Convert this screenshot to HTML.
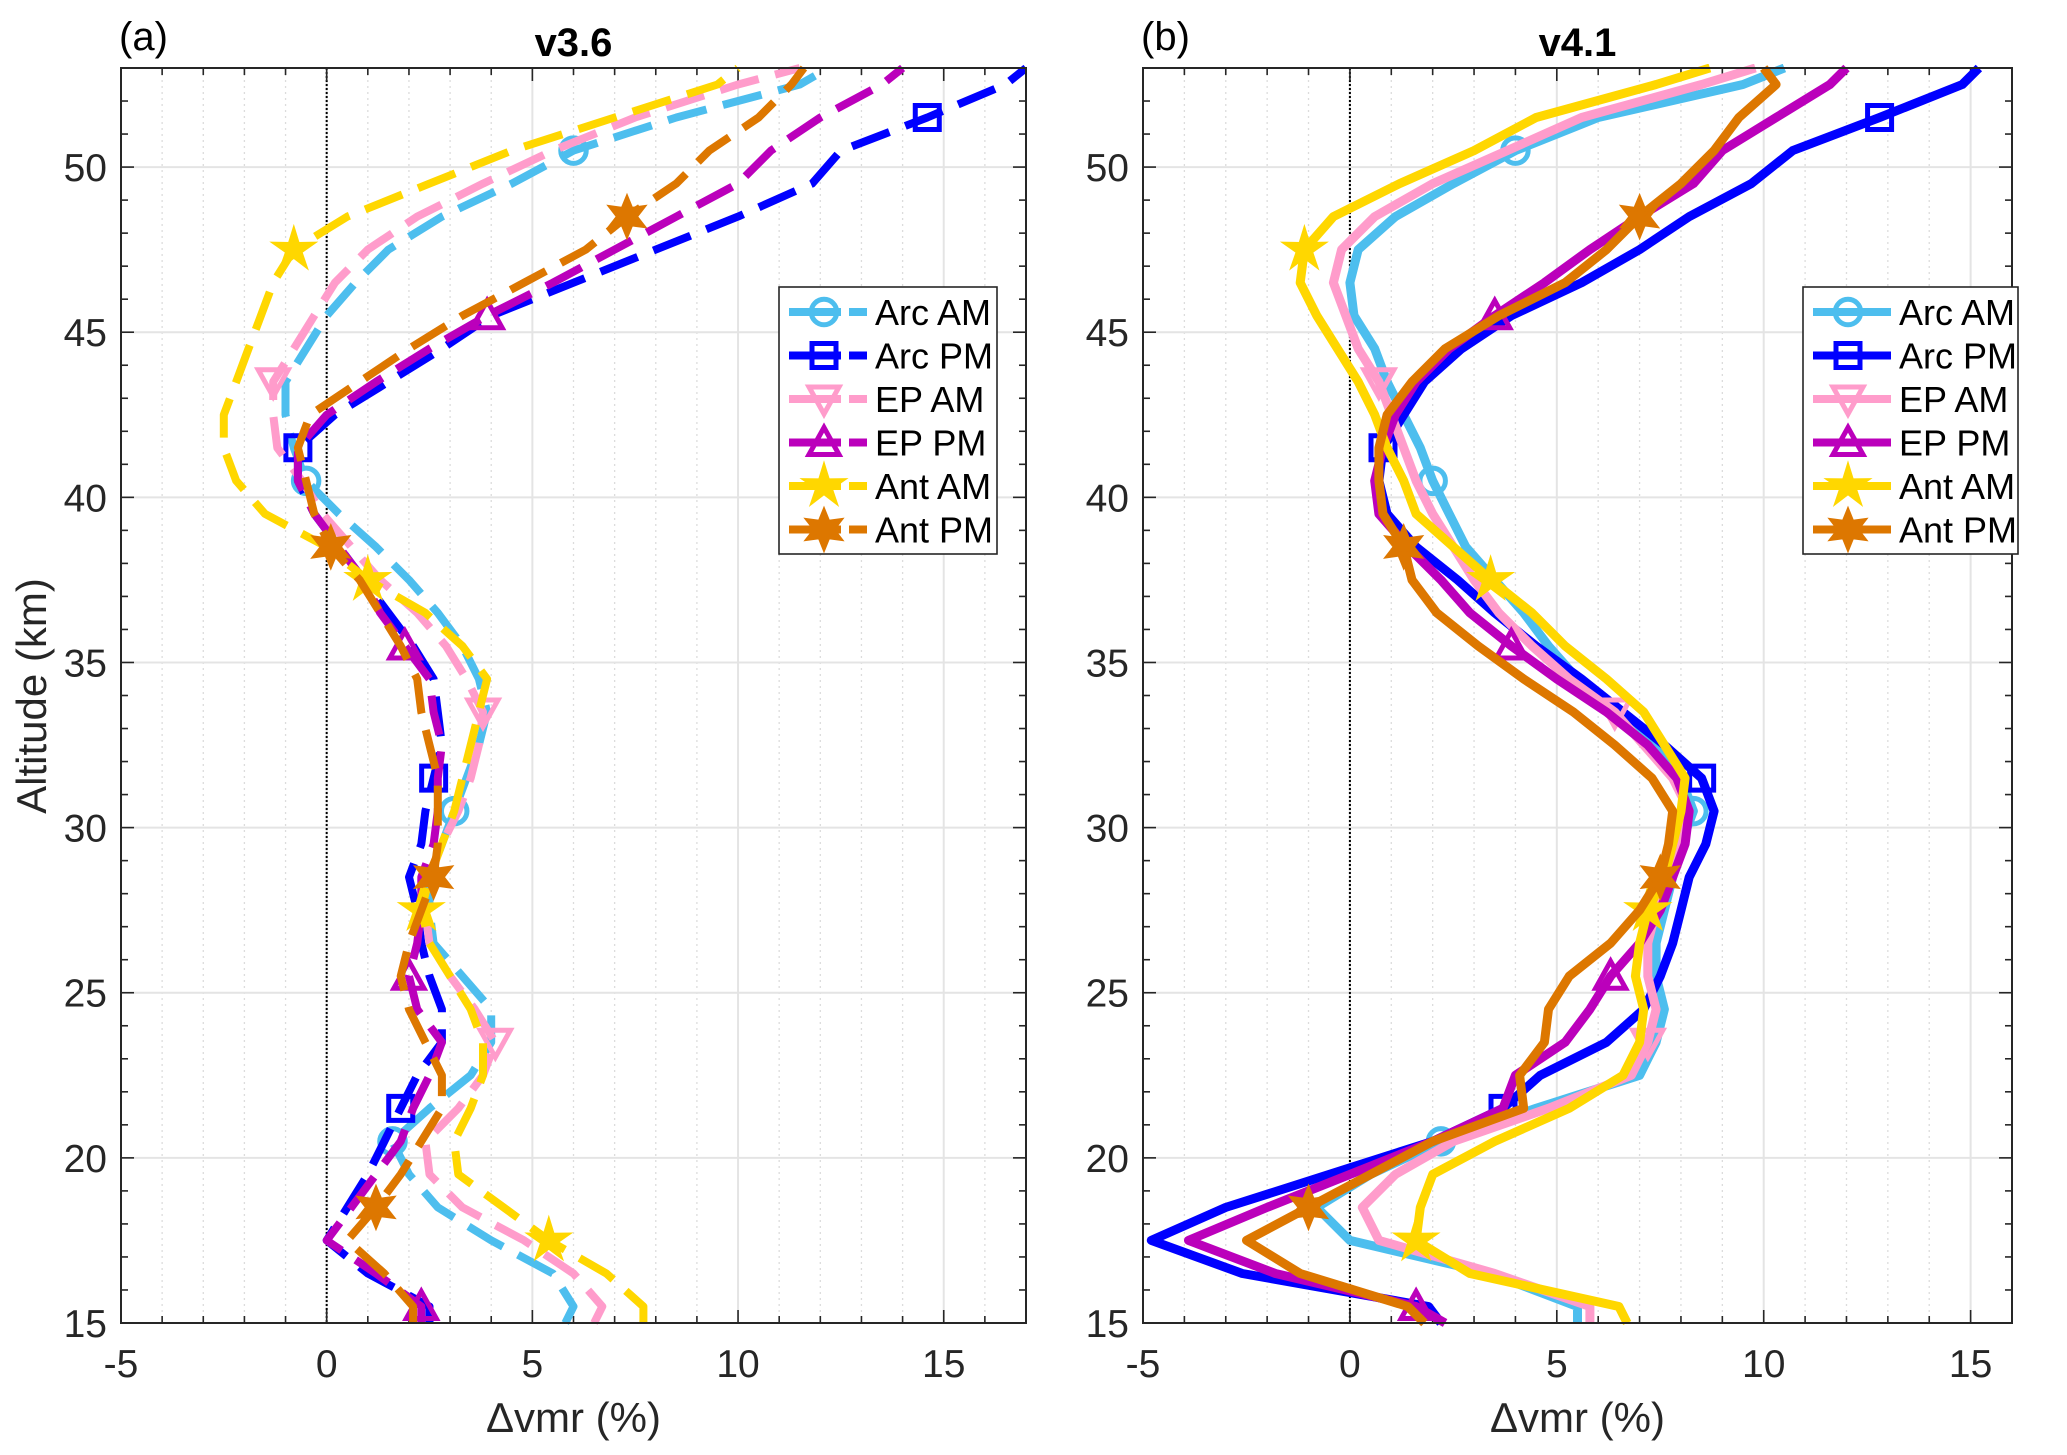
<!DOCTYPE html>
<html><head><meta charset="utf-8">
<style>
html,body{margin:0;padding:0;background:#fff;}
svg{display:block;font-family:"Liberation Sans",sans-serif;}
</style></head>
<body>
<svg id="chart" width="2067" height="1455" viewBox="0 0 2067 1455" xmlns="http://www.w3.org/2000/svg"></svg>
<script>
const altitudes = [15,15.5,16.5,17.5,18.5,19.5,20.5,21.5,22.5,23.5,24.5,25.5,26.5,27.5,28.5,29.5,30.5,31.5,32.5,33.5,34.5,35.5,36.5,37.5,38.5,39.5,40.5,41.5,42.5,43.5,44.5,45.5,46.5,47.5,48.5,49.5,50.5,51.5,52.5,53];
const seriesNames = ["Arc AM","Arc PM","EP AM","EP PM","Ant AM","Ant PM"];
// v3.6
const v36ArcAM = [5.8,6,5.5,4,2.7,2,1.6,2.5,3.5,4,4,3.3,2.6,2.5,2.5,2.8,3.1,3.4,3.7,3.9,3.7,3.3,2.7,2,1.2,0.3,-0.5,-0.8,-1,-1,-0.5,0,0.7,1.5,2.8,4.5,6,8.5,11.5,12.2];
const v36ArcPM = [2.5,2.5,1,0,0.5,1,1.4,1.8,2.2,2.8,2.8,2.5,2.3,2.2,2,2.3,2.4,2.6,2.8,2.7,2.6,2.1,1.5,0.9,0.3,-0.3,-0.7,-0.7,0.2,1.5,2.8,4,6,8,10,11.8,12.5,14.6,16.5,17];
const v36EPAM = [6.5,6.7,6,4.8,3.3,2.5,2.4,3.2,3.8,4.1,3.6,3,2.5,2.4,2.5,2.8,3.2,3.5,3.7,3.8,3.4,2.9,2.2,1.3,0.6,-0.1,-0.6,-1.2,-1.3,-1.3,-0.8,-0.3,0.2,1,2.2,3.8,5.5,7.5,10,11.5];
const v36EPPM = [2.3,2.3,1.2,0,0.6,1.2,1.8,2.1,2.5,2.8,2.2,2,2.2,2.3,2.3,2.6,2.7,2.7,2.8,2.6,2.5,1.9,1.3,0.9,0.3,-0.3,-0.7,-0.7,0,1.2,2.5,3.9,5.5,7,8.5,10,10.8,12,13.5,14];
const v36AntAM = [7.7,7.7,6.8,5.4,4.3,3.2,3.1,3.5,3.8,3.8,3.5,3,2.5,2.3,2.5,2.8,3.1,3.3,3.5,3.7,3.9,3.3,2.4,1,0,-1.5,-2.2,-2.5,-2.5,-2.2,-1.9,-1.6,-1.3,-0.8,0.5,2.5,4.5,7,9.5,10];
const v36AntPM = [2.1,2.1,1.4,0.5,1.2,1.8,2.3,2.8,2.8,2.4,2,1.8,2,2.3,2.6,2.7,2.7,2.7,2.5,2.3,2.2,1.8,1.3,0.8,0.1,-0.3,-0.5,-0.7,-0.4,0.8,2,3.3,4.8,6.3,7.3,8.5,9.3,10.5,11.3,11.6];
// v4.1
const v41ArcAM = [5.5,5.5,3.4,0,-0.8,0.5,2.2,4.5,7,7.4,7.6,7.4,7.4,7.6,7.8,8,8.3,8,7.4,6.5,5.5,4.8,4.2,3.5,2.8,2.4,2,1.7,1.3,0.9,0.6,0.1,0,0.2,1.1,2.5,4,6,9.5,10.5];
const v41ArcPM = [2.2,1.9,-2.6,-4.8,-3,-0.5,2,3.7,4.6,6.2,7.1,7.5,7.8,8,8.2,8.6,8.8,8.5,7.6,6.6,5.6,4.5,3.5,2.6,1.6,0.9,0.7,0.8,1.3,1.8,2.7,3.9,5.6,7,8.2,9.7,10.7,12.8,14.8,15.2];
const v41EPAM = [5.8,5.8,3.5,0.7,0.3,1.1,2.5,4.8,6.8,7.2,7.4,7.2,7.2,7.4,7.6,8,8.2,7.8,7.1,6.4,5.3,4.4,3.6,3,2.5,2,1.6,1.3,1,0.7,0.2,-0.1,-0.4,-0.2,0.6,2,3.8,5.6,8.5,9.8];
const v41EPPM = [2.3,1.6,-1.8,-3.9,-2,0,2,3.7,4,5.2,5.8,6.3,7,7.5,7.8,8.1,8.2,7.9,7.2,6.2,5,3.9,2.9,2.2,1.4,0.7,0.6,0.8,1.1,1.6,2.4,3.5,4.7,5.8,7,8.3,9,10.3,11.6,12];
const v41AntAM = [6.7,6.5,2.9,1.6,1.7,2,3.5,5.3,6.6,7,7.1,6.9,7,7.2,7.6,7.8,8,8.1,7.6,7.1,6.2,5.2,4.4,3.4,2.5,1.6,1.3,0.9,0.6,0.2,-0.3,-0.8,-1.2,-1.1,-0.4,1.2,3,4.5,7.4,8.7];
const v41AntPM = [1.8,1.4,-1.2,-2.5,-1,0.5,2,4.2,4.1,4.7,4.8,5.3,6.3,7,7.5,7.7,7.8,7.3,6.4,5.4,4.2,3.1,2.1,1.5,1.3,0.8,0.7,0.7,0.9,1.5,2.3,3.6,5.2,6.2,7,8,8.8,9.4,10.3,10];
const xTicks = [-5,0,5,10,15];
const yTicks = [15,20,25,30,35,40,45,50];
const markerAlts = [[20.5,30.5,40.5,50.5],[21.5,31.5,41.5,51.5],[23.5,33.5,43.5],[15.5,25.5,35.5,45.5],[17.5,27.5,37.5,47.5],[18.5,28.5,38.5,48.5]];
const colors = ["#4DBEEE","#0000FF","#FF9CCB","#BB00BB","#FFD700","#DD7700"];
const markers = ["circle","square","tridown","triup","star5","star6"];

const NS="http://www.w3.org/2000/svg";
const svg=document.getElementById('chart');
function mk(tag,attrs,parent){const e=document.createElementNS(NS,tag);for(const k in attrs)e.setAttribute(k,attrs[k]);(parent||svg).appendChild(e);return e;}

function markerPath(type,cx,cy,r){
  if(type==="square") return `M${cx-r*0.8},${cy-r*0.8}h${1.6*r}v${1.6*r}h${-1.6*r}Z`;
  if(type==="tridown") return `M${cx-r},${cy-r*0.8}L${cx+r},${cy-r*0.8}L${cx},${cy+r}Z`;
  if(type==="triup") return `M${cx-r},${cy+r*0.8}L${cx+r},${cy+r*0.8}L${cx},${cy-r}Z`;
  let n=type==="star5"?5:6, ri=type==="star5"?0.42:0.55, d="";
  for(let i=0;i<2*n;i++){const a=-Math.PI/2+i*Math.PI/n;const rr=i%2?r*ri:r*1.15;d+=(i?"L":"M")+(cx+rr*Math.cos(a)).toFixed(1)+","+(cy+rr*Math.sin(a)).toFixed(1);}
  return d+"Z";
}
function drawMarker(g,type,cx,cy,r,color){
  if(type==="circle"){
    const c=mk('circle',{cx:cx,cy:cy,r:r*0.85,fill:'none',stroke:color,'stroke-width':5},g);
    
    
    return;
  }
  const fill=(type==="star5"||type==="star6")?color:'none';
  const p=mk('path',{d:markerPath(type,cx,cy,r),fill:fill,stroke:color,'stroke-width':5,'stroke-linejoin':'miter'},g);
  
  
}

function panel(cfg){
  const {L,R,T,B,xmin,xmax,data,dashed,label,title,name}=cfg;
  const X=v=>L+(v-xmin)/(xmax-xmin)*(R-L);
  const Y=v=>B-(v-15)/(53-15)*(B-T);
  const g=mk('g',{});
  
  
  for(let v=Math.ceil(xmin);v<=xmax;v++){
    if(v%5===0) continue;
    mk('line',{x1:X(v),x2:X(v),y1:T,y2:B,stroke:'#dcdcdc','stroke-width':1.3,'stroke-dasharray':'2,4'},g);
  }
  xTicks.forEach(v=>{ if(v>xmin&&v<xmax) mk('line',{x1:X(v),x2:X(v),y1:T,y2:B,stroke:'#e4e4e4','stroke-width':2},g);});
  yTicks.forEach(v=>{ if(v>15) mk('line',{x1:L,x2:R,y1:Y(v),y2:Y(v),stroke:'#e4e4e4','stroke-width':2},g);});
  const z=mk('line',{x1:X(0),x2:X(0),y1:T,y2:B,stroke:'#000','stroke-width':2,'stroke-dasharray':'2,2'},g);
  
  
  for(let v=Math.ceil(xmin);v<=xmax;v++){
    const len=(v%5===0)?13:7;
    mk('line',{x1:X(v),x2:X(v),y1:B,y2:B-len,stroke:'#262626','stroke-width':1.6},g);
    mk('line',{x1:X(v),x2:X(v),y1:T,y2:T+len,stroke:'#262626','stroke-width':1.6},g);
  }
  for(let v=15;v<=53;v++){
    const len=(v%5===0)?13:7;
    mk('line',{x1:L,x2:L+len,y1:Y(v),y2:Y(v),stroke:'#262626','stroke-width':1.6},g);
    mk('line',{x1:R,x2:R-len,y1:Y(v),y2:Y(v),stroke:'#262626','stroke-width':1.6},g);
  }
  xTicks.forEach(v=>{
    const t=mk('text',{x:X(v),y:B+54,'font-size':39,'text-anchor':'middle',fill:'#262626'},g);
    t.textContent=String(v);
    
    
  });
  yTicks.forEach(v=>{
    const t=mk('text',{x:L-14,y:Y(v)+14,'font-size':39,'text-anchor':'end',fill:'#262626'},g);
    t.textContent=String(v);
    
    
  });
  const clip='clip-'+name;
  const cp=mk('clipPath',{id:clip},g); mk('rect',{x:L,y:T-4,width:R-L,height:B-T+8},cp);
  const sg=mk('g',{'clip-path':`url(#${clip})`},g);
  data.forEach((arr,i)=>{
    const pts=arr.map((v,j)=>X(v).toFixed(1)+','+Y(altitudes[j]).toFixed(1)).join(' ');
    const pl=mk('polyline',{points:pts,fill:'none',stroke:colors[i],'stroke-width':dashed?8:9,'stroke-linejoin':'round','stroke-dasharray':dashed?'40,17':'none'},sg);
    
    
    markerAlts[i].forEach(a=>{
      const j=altitudes.indexOf(a);
      drawMarker(sg,markers[i],X(arr[j]),Y(a),15,colors[i]);
    });
  });
  const box=mk('rect',{x:L,y:T,width:R-L,height:B-T,fill:'none',stroke:'#262626','stroke-width':2},g);
  
  
  const pl=mk('text',{x:L-2,y:50,'font-size':40,fill:'#000'},g); pl.textContent=label;
  
  
  const tt=mk('text',{x:(L+R)/2,y:56,'font-size':40,'font-weight':'bold','text-anchor':'middle',fill:'#000'},g); tt.textContent=title;
  
  
  const xl=mk('text',{x:(L+R)/2,y:1432,'font-size':42,'text-anchor':'middle',fill:'#262626'},g); xl.textContent='Δvmr (%)';
  
  
  const lx=cfg.legX, ly=287, lw=cfg.legW, lh=267;
  const lg=mk('g',{},g);
  
  
  mk('rect',{x:lx,y:ly,width:lw,height:lh,fill:'#fff',stroke:'#262626','stroke-width':1.6},lg);
  seriesNames.forEach((n,i)=>{
    const cy=ly+25+i*43.5;
    const e=mk('g',{},lg);
    
    
    mk('line',{x1:lx+10,x2:lx+88,y1:cy,y2:cy,stroke:colors[i],'stroke-width':8,'stroke-dasharray':dashed?'52,8,18,0':'none'},e);
    drawMarker(e,markers[i],lx+45,cy,15,colors[i]);
    const t=mk('text',{x:lx+96,y:cy+13,'font-size':36,fill:'#000'},e); t.textContent=n;
  });
}
panel({L:121,R:1026,T:68,B:1323,xmin:-5,xmax:17,dashed:true,label:'(a)',title:'v3.6',name:'panel-a',
  data:[v36ArcAM,v36ArcPM,v36EPAM,v36EPPM,v36AntAM,v36AntPM],legX:779,legW:218});
panel({L:1143,R:2012,T:68,B:1323,xmin:-5,xmax:16,dashed:false,label:'(b)',title:'v4.1',name:'panel-b',
  data:[v41ArcAM,v41ArcPM,v41EPAM,v41EPPM,v41AntAM,v41AntPM],legX:1803,legW:215});
const yl=mk('text',{x:0,y:0,'font-size':42,'text-anchor':'middle',fill:'#262626',transform:'translate(46,696) rotate(-90)'});
yl.textContent='Altitude (km)';


</script>
</body></html>
